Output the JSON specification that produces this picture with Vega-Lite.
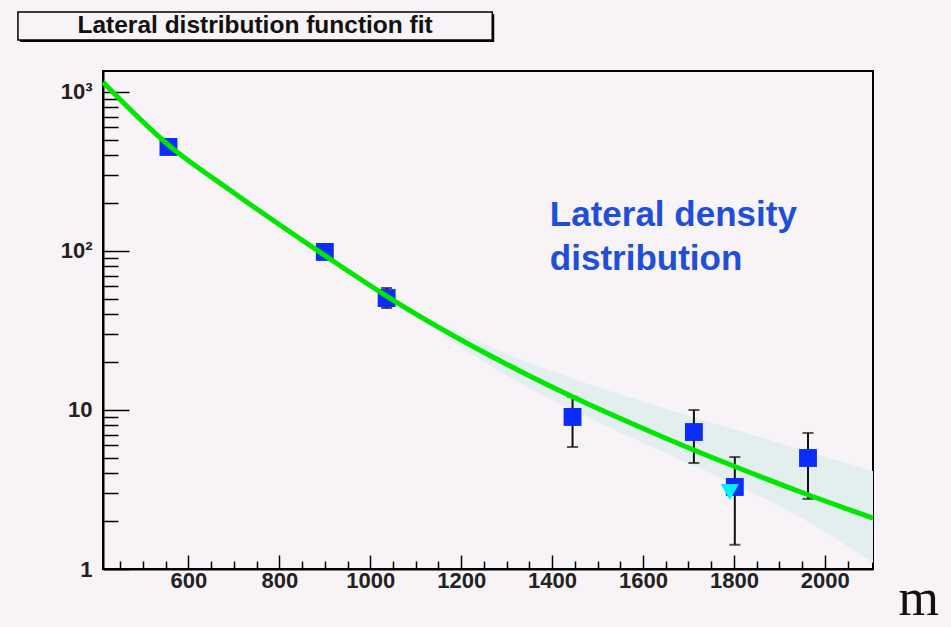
{
  "$schema": "https://vega.github.io/schema/vega-lite/v6.json",
  "background": "#f7f3f7",
  "autosize": {"type": "none"},
  "padding": {"left": 103, "top": 71, "right": 78, "bottom": 58},
  "width": 770,
  "height": 498,
  "view": {"stroke": "black", "strokeWidth": 2},
  "datasets": {
    "measured": [
      {"r": 556, "rho": 451, "lo": 420, "hi": 484},
      {"r": 900, "rho": 98.6, "lo": 92, "hi": 105},
      {"r": 1036, "rho": 50.6, "lo": 43.8, "hi": 58.5},
      {"r": 1445, "rho": 9.04, "lo": 5.85, "hi": 12.1},
      {"r": 1712, "rho": 7.27, "lo": 4.64, "hi": 10.0},
      {"r": 1802, "rho": 3.28, "lo": 1.42, "hi": 5.06},
      {"r": 1963, "rho": 4.99, "lo": 2.76, "hi": 7.17}
    ],
    "silent": [
      {"r": 1791, "rho": 3.05}
    ],
    "fit": [
      {"r": 412, "rho": 1150},
      {"r": 551, "rho": 477},
      {"r": 698, "rho": 234.3},
      {"r": 899, "rho": 94.1},
      {"r": 1035, "rho": 52.2},
      {"r": 1108, "rho": 38.9},
      {"r": 1218, "rho": 25.8},
      {"r": 1329, "rho": 17.6},
      {"r": 1446, "rho": 12.07},
      {"r": 1549, "rho": 8.87},
      {"r": 1659, "rho": 6.48},
      {"r": 1802, "rho": 4.41},
      {"r": 1963, "rho": 2.93},
      {"r": 2106, "rho": 2.09}
    ],
    "band": [
      {"r": 412, "lo": 1140, "hi": 1160},
      {"r": 551, "lo": 472, "hi": 482},
      {"r": 698, "lo": 231.5, "hi": 237},
      {"r": 899, "lo": 92.6, "hi": 95.6},
      {"r": 1035, "lo": 51.4, "hi": 53.0},
      {"r": 1108, "lo": 37.3, "hi": 40.6},
      {"r": 1218, "lo": 23.0, "hi": 28.6},
      {"r": 1329, "lo": 14.8, "hi": 20.9},
      {"r": 1446, "lo": 10.0, "hi": 15.7},
      {"r": 1549, "lo": 7.24, "hi": 12.55},
      {"r": 1659, "lo": 5.21, "hi": 10.0},
      {"r": 1802, "lo": 3.40, "hi": 7.54},
      {"r": 1963, "lo": 1.98, "hi": 5.46},
      {"r": 2106, "lo": 1.09, "hi": 4.13}
    ]
  },
  "encoding": {
    "x": {
      "type": "quantitative",
      "scale": {"domain": [412, 2106], "nice": false, "zero": false},
      "axis": {
        "values": [450, 500, 550, 600, 650, 700, 750, 800, 850, 900, 950, 1000, 1050, 1100, 1150, 1200, 1250, 1300, 1350, 1400, 1450, 1500, 1550, 1600, 1650, 1700, 1750, 1800, 1850, 1900, 1950, 2000, 2050],
        "labelExpr": "datum.value % 200 === 0 ? format(datum.value, 'd') : ''",
        "tickSize": {"condition": {"test": "datum.value % 200 === 0", "value": -14}, "value": -8},
        "tickColor": "black",
        "tickWidth": 1.5,
        "domainColor": "black",
        "domainWidth": 2,
        "grid": false,
        "labelFont": "Liberation Sans",
        "labelFontWeight": "bold",
        "labelFontSize": 22,
        "labelColor": "#222",
        "labelPadding": 15,
        "labelOverlap": false,
        "labelFlush": false,
        "title": "m",
        "titleFont": "Liberation Serif",
        "titleFontWeight": "normal",
        "titleFontSize": 52,
        "titleColor": "#111",
        "titleAlign": "left",
        "titleBaseline": "alphabetic",
        "titleX": 795,
        "titleY": 45
      }
    },
    "y": {
      "type": "quantitative",
      "scale": {"type": "log", "domain": [1, 1355], "nice": false},
      "axis": {
        "values": [1, 2, 3, 4, 5, 6, 7, 8, 9, 10, 20, 30, 40, 50, 60, 70, 80, 90, 100, 200, 300, 400, 500, 600, 700, 800, 900, 1000],
        "labelExpr": "datum.value === 1000 ? '10³' : datum.value === 100 ? '10²' : datum.value === 10 ? '10' : datum.value === 1 ? '1' : ''",
        "tickSize": {"condition": {"test": "datum.value === 1 || datum.value === 10 || datum.value === 100 || datum.value === 1000", "value": -26}, "value": -15},
        "tickColor": "black",
        "tickWidth": 1.5,
        "domainColor": "black",
        "domainWidth": 2,
        "grid": false,
        "labelFont": "Liberation Sans",
        "labelFontWeight": "bold",
        "labelFontSize": 22,
        "labelColor": "#222",
        "labelPadding": 37,
        "labelOverlap": false,
        "labelFlush": false,
        "title": null
      }
    }
  },
  "layer": [
    {
      "data": {"values": [{"label": "Lateral distribution function fit"}]},
      "mark": {"type": "rect", "fill": "black", "xOffset": 2, "yOffset": 2, "x2Offset": 2, "y2Offset": 2},
      "encoding": {
        "x": {"datum": 224.9},
        "x2": {"datum": 1268.3},
        "y": {"datum": 3185},
        "y2": {"datum": 2123}
      }
    },
    {
      "data": {"values": [{"label": "Lateral distribution function fit"}]},
      "mark": {"type": "rect", "fill": "#f7f3f7", "stroke": "black", "strokeWidth": 1.5},
      "encoding": {
        "x": {"datum": 224.9},
        "x2": {"datum": 1268.3},
        "y": {"datum": 3185},
        "y2": {"datum": 2123}
      }
    },
    {
      "data": {"values": [{"label": "Lateral distribution function fit"}]},
      "mark": {"type": "text", "font": "Liberation Sans", "fontWeight": "bold", "fontSize": 24.5, "color": "#111", "align": "center", "baseline": "middle"},
      "encoding": {
        "x": {"datum": 746.6},
        "y": {"datum": 2602},
        "text": {"field": "label"}
      }
    },
    {
      "data": {"name": "band"},
      "mark": {"type": "area", "color": "#e3eeef", "opacity": 1, "interpolate": "monotone"},
      "encoding": {
        "x": {"field": "r"},
        "y": {"field": "lo"},
        "y2": {"field": "hi"}
      }
    },
    {
      "data": {"name": "measured"},
      "mark": {"type": "errorbar", "ticks": {"size": 11, "thickness": 2, "color": "#111"}, "thickness": 2, "color": "#111"},
      "encoding": {
        "x": {"field": "r"},
        "y": {"field": "lo"},
        "y2": {"field": "hi"}
      }
    },
    {
      "data": {"name": "measured"},
      "mark": {"type": "point", "shape": "square", "filled": true, "size": 320, "color": "#0b2dfb", "opacity": 1},
      "encoding": {
        "x": {"field": "r"},
        "y": {"field": "rho"}
      }
    },
    {
      "data": {"name": "silent"},
      "mark": {"type": "point", "shape": "triangle-down", "filled": true, "size": 340, "color": "#00f2ff", "opacity": 1},
      "encoding": {
        "x": {"field": "r"},
        "y": {"field": "rho"}
      }
    },
    {
      "data": {"name": "fit"},
      "mark": {"type": "line", "color": "#00e600", "strokeWidth": 5, "interpolate": "monotone"},
      "encoding": {
        "x": {"field": "r"},
        "y": {"field": "rho"}
      }
    },
    {
      "data": {"values": [{}]},
      "mark": {"type": "text", "font": "Liberation Sans", "fontWeight": "bold", "fontSize": 35, "color": "#1f4fd8", "align": "left", "baseline": "top", "lineHeight": 44},
      "encoding": {
        "x": {"datum": 1395},
        "y": {"datum": 215},
        "text": {"value": ["Lateral density", "distribution"]}
      }
    }
  ]
}
